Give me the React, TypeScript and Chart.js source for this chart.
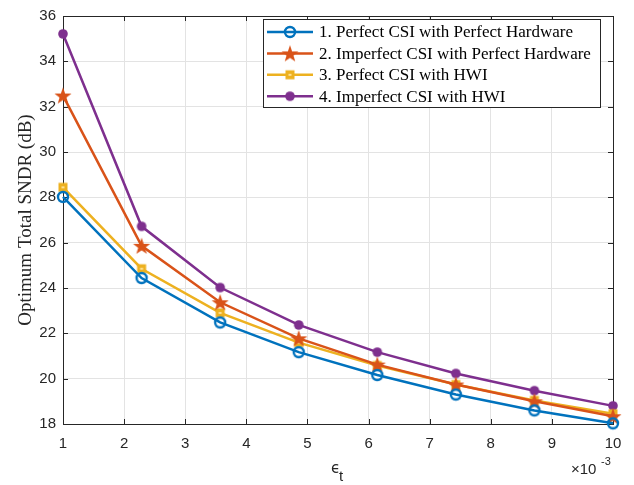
import React, { useEffect, useRef } from "react";
import { Chart, registerables } from "chart.js";

Chart.register(...registerables);

const xValues = [1, 2.2857, 3.5714, 4.8571, 6.1429, 7.4286, 8.7143, 10];
const series1 = [28.02, 24.44, 22.48, 21.17, 20.16, 19.3, 18.6, 18.03];
const series2 = [32.49, 25.86, 23.37, 21.78, 20.62, 19.74, 19.0, 18.34];
const series3 = [28.44, 24.85, 22.9, 21.59, 20.58, 19.74, 19.04, 18.45];
const series4 = [35.21, 26.72, 24.02, 22.37, 21.17, 20.23, 19.47, 18.8];
const labels = [
  "1. Perfect CSI with Perfect Hardware",
  "2. Imperfect CSI with Perfect Hardware",
  "3. Perfect CSI with HWI",
  "4. Imperfect CSI with HWI",
];
const xTicks = [1, 2, 3, 4, 5, 6, 7, 8, 9, 10];
const yTicks = [18, 20, 22, 24, 26, 28, 30, 32, 34, 36];

const C1 = "#0072BD";
const C2 = "#D95319";
const C3 = "#EDB120";
const C4 = "#7E2F8E";
const AX = "#262626";

function makeMarker(kind: string, color: string): HTMLCanvasElement {
  const s = 22;
  const c = document.createElement("canvas");
  c.width = s;
  c.height = s;
  const g = c.getContext("2d")!;
  const cx = s / 2, cy = s / 2;
  if (kind === "circleOpen") {
    g.beginPath();
    g.arc(cx, cy, 5, 0, Math.PI * 2);
    g.lineWidth = 2.4;
    g.strokeStyle = color;
    g.stroke();
  } else if (kind === "star") {
    const R = 9, r = 3.6;
    g.beginPath();
    for (let i = 0; i < 10; i++) {
      const rad = i % 2 === 0 ? R : r;
      const a = -Math.PI / 2 + (i * Math.PI) / 5;
      const px = cx + rad * Math.cos(a), py = cy + 0.8 + rad * Math.sin(a);
      if (i === 0) g.moveTo(px, py); else g.lineTo(px, py);
    }
    g.closePath();
    g.fillStyle = color;
    g.fill();
  } else if (kind === "square") {
    g.fillStyle = color;
    g.fillRect(cx - 4.5, cy - 4.5, 9, 9);
    g.fillStyle = "rgba(255,230,160,0.9)";
    g.fillRect(cx - 1.5, cy - 1, 3, 2);
  } else if (kind === "dot") {
    g.beginPath();
    g.arc(cx, cy, 4.8, 0, Math.PI * 2);
    g.fillStyle = color;
    g.fill();
  }
  return c;
}

export default function App() {
  const ref = useRef<HTMLCanvasElement>(null);
  useEffect(() => {
    document.body.style.margin = "0";
    const markers = [
      makeMarker("circleOpen", C1),
      makeMarker("star", C2),
      makeMarker("square", C3),
      makeMarker("dot", C4),
    ];
    const colors = [C1, C2, C3, C4];
    const all = [series1, series2, series3, series4];

    const decor = {
      id: "decor",
      beforeDatasetsDraw(chart: any) {
        const ctx = chart.ctx;
        const a = chart.chartArea;
        const xs = chart.scales.x, ys = chart.scales.y;
        ctx.save();
        ctx.strokeStyle = AX;
        ctx.lineWidth = 1;
        const tl = 5;
        ctx.beginPath();
        for (const t of xTicks) {
          const px = Math.round(xs.getPixelForValue(t)) + 0.5;
          ctx.moveTo(px, a.bottom); ctx.lineTo(px, a.bottom - tl);
          ctx.moveTo(px, a.top); ctx.lineTo(px, a.top + tl);
        }
        for (const t of yTicks) {
          const py = Math.round(ys.getPixelForValue(t)) + 0.5;
          ctx.moveTo(a.left, py); ctx.lineTo(a.left + tl, py);
          ctx.moveTo(a.right, py); ctx.lineTo(a.right - tl, py);
        }
        ctx.stroke();
        ctx.strokeRect(Math.round(a.left) + 0.5, Math.round(a.top) + 0.5, Math.round(a.right - a.left), Math.round(a.bottom - a.top));
        ctx.restore();
      },
      afterDraw(chart: any) {
        const ctx = chart.ctx;
        const a = chart.chartArea;
        ctx.save();
        // legend
        const lx = 263, ly = 19, lw = 337, lh = 88;
        ctx.fillStyle = "#fff";
        ctx.fillRect(lx, ly, lw, lh);
        ctx.strokeStyle = AX;
        ctx.lineWidth = 1;
        ctx.strokeRect(lx + 0.5, ly + 0.5, lw, lh);
        ctx.font = "17px 'Liberation Serif'";
        ctx.textBaseline = "middle";
        ctx.textAlign = "left";
        for (let i = 0; i < 4; i++) {
          const yy = 32 + i * 21.4;
          ctx.strokeStyle = colors[i];
          ctx.lineWidth = 2.5;
          ctx.beginPath();
          ctx.moveTo(267, yy); ctx.lineTo(313, yy);
          ctx.stroke();
          ctx.drawImage(markers[i], 290 - 11, yy - 11);
          ctx.fillStyle = "#000";
          ctx.fillText(labels[i], 319, yy + 1);
        }

        // y title
        ctx.save();
        ctx.translate(31, (a.top + a.bottom) / 2);
        ctx.rotate(-Math.PI / 2);
        ctx.textAlign = "center";
        ctx.textBaseline = "alphabetic";
        ctx.fillStyle = AX;
        ctx.font = "19px 'Liberation Serif'";
        ctx.fillText("Optimum Total SNDR (dB)", 0, 0);
        ctx.restore();

        // x title
        ctx.fillStyle = AX;
        ctx.textBaseline = "alphabetic";
        ctx.textAlign = "left";
        ctx.font = "15px 'DejaVu Sans'";
        ctx.fillText("ϵ", 331, 473);
        ctx.font = "15px 'Liberation Sans'";
        ctx.fillText("t", 339, 481);

        // exponent
        ctx.font = "15px 'Liberation Sans'";
        ctx.fillText("×10", 571, 474);
        ctx.font = "11px 'Liberation Sans'";
        ctx.fillText("-3", 601, 465);
        ctx.restore();
      },
    };

    const chart = new Chart(ref.current!, {
      type: "line",
      data: {
        datasets: all.map((s, i) => ({
          label: labels[i],
          data: s.map((v, j) => ({ x: xValues[j], y: v })),
          borderColor: colors[i],
          backgroundColor: colors[i],
          borderWidth: 2.5,
          pointStyle: markers[i] as any,
          pointRadius: 5,
          tension: 0,
          clip: false as any,
        })),
      },
      options: {
        animation: false,
        responsive: false,
        layout: { padding: { top: 6, right: 21, left: 0, bottom: 0 } },
        plugins: { legend: { display: false }, tooltip: { enabled: false } },
        scales: {
          x: {
            type: "linear",
            min: 1,
            max: 10,
            afterBuildTicks: (s: any) => { s.ticks = xTicks.map((v) => ({ value: v })); },
            afterFit: (s: any) => { s.height = 61; },
            grid: { color: "#e3e3e3", drawTicks: false },
            border: { display: false },
            ticks: { color: AX, font: { family: "'Liberation Sans'", size: 15 }, padding: 11, maxRotation: 0, autoSkip: false },
          },
          y: {
            type: "linear",
            min: 18,
            max: 36,
            afterBuildTicks: (s: any) => { s.ticks = yTicks.map((v) => ({ value: v })); },
            afterFit: (s: any) => { s.width = 63; },
            grid: { color: "#e3e3e3", drawTicks: false },
            border: { display: false },
            ticks: { color: AX, font: { family: "'Liberation Sans'", size: 15 }, padding: 7, autoSkip: false },
          },
        },
      },
      plugins: [decor],
    });
    return () => chart.destroy();
  }, []);
  return <canvas ref={ref} width={634} height={485} style={{ display: "block" }} />;
}
